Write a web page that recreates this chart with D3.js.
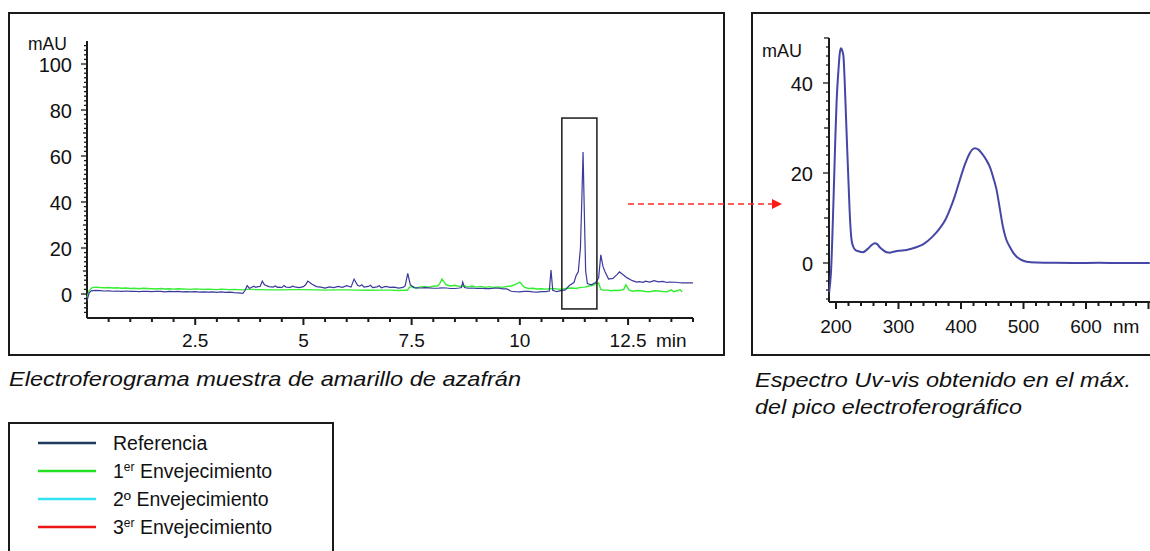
<!DOCTYPE html>
<html><head><meta charset="utf-8">
<script src="https://cdn.jsdelivr.net/npm/d3@7"></script>
<style>
html,body{margin:0;padding:0;background:#fff;}
svg{display:block;font-family:"Liberation Sans",Arial,sans-serif;}
</style></head>
<body>
<svg id="c" width="1150" height="551"></svg>
<script>
// ---------- DATA ----------
const elecXTicks = [2.5, 5, 7.5, 10, 12.5];
const elecYTicks = [0, 20, 40, 60, 80, 100];
// Referencia (time min, mAU)
const referencia = [
[0.0,-3],[0.05,0.5],[0.1,1.4],[0.2,1.6],[0.3,1.5],[0.4,1.3],[0.5,1.4],[0.6,1.2],[0.7,1.3],[0.8,1.1],[0.9,1.3],
[1.0,1.1],[1.1,1.2],[1.2,1.0],[1.3,1.2],[1.4,1.1],[1.5,1.0],[1.6,1.2],[1.7,1.1],[1.8,0.9],[1.9,1.1],[2.0,1.0],
[2.1,1.1],[2.2,0.9],[2.3,1.0],[2.4,0.9],[2.5,1.0],[2.6,0.8],[2.7,0.9],[2.8,0.8],[2.9,0.9],[3.0,0.7],[3.1,0.9],
[3.2,0.7],[3.3,0.8],[3.4,0.6],[3.5,0.5],[3.6,0.3],[3.65,1.5],[3.7,3.6],[3.75,2.5],[3.8,2.8],[3.85,3.4],[3.9,2.9],
[3.95,3.2],[4.0,3.3],[4.05,5.6],[4.1,4.0],[4.2,3.2],[4.3,3.0],[4.35,3.5],[4.4,2.9],[4.45,3.0],[4.5,2.8],[4.55,3.7],
[4.6,3.0],[4.7,2.9],[4.75,3.4],[4.8,3.1],[4.9,2.8],[5.0,3.2],[5.05,4.0],[5.1,5.6],[5.2,4.2],[5.3,3.2],[5.4,3.0],
[5.5,2.6],[5.6,3.1],[5.7,2.8],[5.8,3.3],[5.9,2.9],[6.0,3.6],[6.1,3.0],[6.17,6.5],[6.25,3.8],[6.3,3.4],[6.35,4.0],
[6.4,3.0],[6.5,3.3],[6.55,3.8],[6.6,2.8],[6.7,3.1],[6.75,3.6],[6.8,2.7],[6.9,3.3],[7.0,2.9],[7.1,3.0],[7.2,2.6],
[7.3,2.9],[7.35,3.5],[7.41,9.0],[7.47,4.0],[7.55,2.8],[7.7,2.6],[7.8,2.8],[7.9,2.7],[8.0,2.5],[8.1,2.5],[8.2,2.7],
[8.3,2.6],[8.4,2.4],[8.5,2.4],[8.6,2.6],[8.65,2.8],[8.68,5.2],[8.72,2.8],[8.8,2.5],[8.9,2.6],[9.0,2.4],[9.1,2.5],
[9.2,2.3],[9.3,2.3],[9.4,2.5],[9.5,2.6],[9.6,2.2],[9.7,2.2],[9.8,1.2],[9.9,1.0],[10.0,0.9],[10.1,1.1],[10.2,1.1],
[10.3,0.9],[10.4,0.8],[10.5,1.0],[10.6,1.0],[10.68,1.3],[10.72,10.4],[10.76,1.6],[10.85,1.0],[10.95,1.5],[11.05,1.8],
[11.15,3.8],[11.25,5.0],[11.3,8.0],[11.35,9.6],[11.4,20],[11.43,40],[11.46,61.7],[11.49,35],[11.52,10],[11.56,4.5],
[11.65,4.0],[11.75,5.0],[11.82,7.0],[11.87,17],[11.92,12],[11.97,9.6],[12.05,6.5],[12.15,6.8],[12.25,8.5],[12.3,9.6],
[12.38,8.5],[12.48,7.0],[12.6,5.8],[12.7,5.2],[12.75,5.4],[12.85,5.1],[12.9,5.6],[13.0,5.2],[13.1,5.8],[13.2,5.3],
[13.3,5.5],[13.4,5.0],[13.45,5.2],[13.6,5.1],[13.7,4.9],[13.75,4.8],[13.9,4.9],[14.0,4.8]
];
// 1er Envejecimiento
const envejecimiento1 = [
[0.0,-1.5],[0.05,1.5],[0.12,2.8],[0.2,3.0],[0.3,2.8],[0.4,2.7],[0.5,2.8],[0.6,2.6],[0.7,2.7],[0.8,2.5],[0.9,2.6],
[1.0,2.4],[1.1,2.5],[1.2,2.3],[1.3,2.5],[1.4,2.4],[1.5,2.3],[1.6,2.2],[1.7,2.4],[1.8,2.2],[1.9,2.3],[2.0,2.1],
[2.1,2.3],[2.2,2.2],[2.3,2.1],[2.4,2.0],[2.5,2.2],[2.6,2.1],[2.7,2.0],[2.8,2.1],[2.9,2.0],[3.0,1.9],[3.1,2.1],
[3.2,2.0],[3.3,1.9],[3.4,2.0],[3.5,1.9],[3.6,1.8],[3.7,2.0],[3.8,2.0],[3.9,1.9],[4.0,1.9],[4.25,1.8],[4.5,1.8],
[4.75,1.9],[5.0,1.9],[5.25,1.8],[5.5,1.7],[5.75,1.8],[6.0,1.8],[6.25,1.7],[6.5,1.6],[6.75,1.7],[7.0,1.7],[7.2,1.5],
[7.3,1.6],[7.4,1.6],[7.45,3.0],[7.55,3.2],[7.6,2.4],[7.7,3.1],[7.8,3.3],[7.9,3.0],[8.0,3.4],[8.1,3.6],[8.15,4.5],
[8.2,6.5],[8.3,4.0],[8.4,3.5],[8.5,3.8],[8.6,3.3],[8.7,3.6],[8.8,3.1],[8.9,3.5],[9.0,3.0],[9.1,3.3],[9.2,2.9],
[9.3,3.2],[9.4,2.8],[9.5,3.1],[9.6,2.9],[9.7,3.3],[9.8,3.5],[9.9,4.2],[10.0,5.2],[10.1,3.0],[10.2,2.4],[10.3,2.5],
[10.4,2.2],[10.5,2.3],[10.6,2.1],[10.7,2.3],[10.8,2.3],[10.9,2.1],[11.0,2.2],[11.1,2.5],[11.2,2.6],[11.3,2.4],
[11.4,2.9],[11.5,3.0],[11.6,3.5],[11.7,3.9],[11.75,4.5],[11.82,4.8],[11.87,2.0],[11.95,1.6],[12.0,1.8],[12.1,1.4],
[12.2,1.6],[12.3,1.5],[12.4,2.0],[12.45,4.0],[12.52,1.8],[12.6,1.2],[12.7,1.5],[12.8,1.4],[12.9,1.1],[13.0,1.0],
[13.1,1.4],[13.2,1.3],[13.3,1.1],[13.4,1.0],[13.5,1.8],[13.55,1.0],[13.65,1.5],[13.7,1.9],[13.75,0.9]
];
const specXTicks = [200, 300, 400, 500, 600];
const specYTicks = [0, 20, 40];
// UV-vis spectrum (nm, mAU)
const espectro = [
[189,-6.5],[192,-2],[196,14],[199,28],[201,36],[204,43],[206,46.6],[208,47.7],[210,47.2],[212,45.8],[214,40],
[216,32.5],[218,25],[220,18],[222,11],[225,5],[228,3.5],[231,2.9],[236,2.6],[243,2.4],[248,2.8],[252,3.3],
[257,4.0],[262,4.4],[266,4.2],[270,3.5],[276,2.8],[281,2.4],[286,2.3],[292,2.5],[300,2.7],[313,2.9],[326,3.4],
[340,4.2],[354,5.8],[366,7.7],[375,9.6],[382,11.8],[390,14.8],[398,18.4],[406,21.8],[414,24.4],[418,25.2],
[422,25.5],[428,25.2],[433,24.4],[440,23.0],[446,21.4],[452,18.8],[457,16.2],[462,12.2],[467,8.1],[472,5.4],
[478,3.6],[484,2.2],[489,1.4],[495,0.8],[505,0.3],[520,0.1],[540,0.05],[580,0.0],[620,0.05],[660,0.0],[702,0.0]
];
const legendItems = [
  {base:"Referencia", sup:"", rest:"", color:"#1f3a5f"},
  {base:"1", sup:"er", rest:" Envejecimiento", color:"#22e022"},
  {base:"2º Envejecimiento", sup:"", rest:"", color:"#33e3f3"},
  {base:"3", sup:"er", rest:" Envejecimiento", color:"#ee1515"}
];

// ---------- DRAW ----------
const svg = d3.select("#c");
const ink = "#1a1a1a";

// panel frames
svg.append("rect").attr("x",9).attr("y",13).attr("width",715).attr("height",342)
  .attr("fill","none").attr("stroke",ink).attr("stroke-width",2);
svg.append("rect").attr("x",752).attr("y",13).attr("width",420).attr("height",342)
  .attr("fill","none").attr("stroke",ink).attr("stroke-width",2);

// ===== Electropherogram =====
const ex = d3.scaleLinear().domain([0,14]).range([87,693]);
const ey = d3.scaleLinear().domain([-10,100]).range([317,64]);
const eg = svg.append("g");

// x axis
const exAxisY = 318;
eg.append("line").attr("x1",87).attr("x2",693).attr("y1",exAxisY).attr("y2",exAxisY)
  .attr("stroke",ink).attr("stroke-width",2);
const exMinor = d3.range(0.5,14.01,0.5);
eg.selectAll(".exm").data(exMinor).join("line")
  .attr("x1",d=>ex(d)).attr("x2",d=>ex(d)).attr("y1",exAxisY)
  .attr("y2",d=>exAxisY+(Math.abs(d/2.5-Math.round(d/2.5))<1e-6?7:4))
  .attr("stroke",ink).attr("stroke-width",2);
eg.selectAll(".exl").data(elecXTicks).join("text")
  .attr("x",d=>ex(d)).attr("y",347).attr("text-anchor","middle")
  .attr("font-size",19).attr("fill","#111").text(d=>d);
eg.append("text").attr("x",656).attr("y",347).attr("font-size",19).attr("fill","#111").text("min");

// y axis
eg.append("line").attr("x1",87).attr("x2",87).attr("y1",41).attr("y2",exAxisY)
  .attr("stroke",ink).attr("stroke-width",2);
const eyMinor = d3.range(-8,109,2);
eg.selectAll(".eym").data(eyMinor).join("line")
  .attr("y1",d=>ey(d)).attr("y2",d=>ey(d)).attr("x1",87)
  .attr("x2",d=>87-(d%20===0?6:(d%10===0?4:3)))
  .attr("stroke",ink).attr("stroke-width",1.3);
eg.selectAll(".eyl").data(elecYTicks).join("text")
  .attr("x",72).attr("y",d=>ey(d)+8).attr("text-anchor","end")
  .attr("font-size",20).attr("fill","#111").text(d=>d);
eg.append("text").attr("x",28).attr("y",50).attr("font-size",17.5).attr("fill","#111").text("mAU");

// traces
const eLine = d3.line().x(d=>ex(d[0])).y(d=>ey(d[1]));
eg.append("path").datum(envejecimiento1).attr("d",eLine)
  .attr("fill","none").attr("stroke","#33ee33").attr("stroke-width",1.4);
eg.append("path").datum(referencia).attr("d",eLine)
  .attr("fill","none").attr("stroke","#3a3a9c").attr("stroke-width",1.2);

// highlight box around main peak
eg.append("rect").attr("x",ex(10.97)).attr("y",ey(76.5))
  .attr("width",ex(11.78)-ex(10.97)).attr("height",ey(-6.5)-ey(76.5))
  .attr("fill","none").attr("stroke",ink).attr("stroke-width",1.5);

// red dashed arrow
svg.append("line").attr("x1",628).attr("x2",772).attr("y1",204).attr("y2",204)
  .attr("stroke","#ff2a2a").attr("stroke-width",1.5).attr("stroke-dasharray","6,4");
svg.append("path").attr("d","M772,199 L782,204 L772,209 Z").attr("fill","#ff1a1a");

// ===== Spectrum =====
const sx = d3.scaleLinear().domain([200,700]).range([836,1148.5]);
const sy = d3.scaleLinear().domain([0,40]).range([263,83]);
const sg = svg.append("g");
const sAxisY = 302;
sg.append("line").attr("x1",829).attr("x2",1150).attr("y1",sAxisY).attr("y2",sAxisY)
  .attr("stroke",ink).attr("stroke-width",2);
const sxMinor = d3.range(200,720,20);
sg.selectAll(".sxm").data(sxMinor).join("line")
  .attr("x1",d=>sx(d)).attr("x2",d=>sx(d)).attr("y1",sAxisY)
  .attr("y2",d=>sAxisY+(d%100===0?7:4))
  .attr("stroke",ink).attr("stroke-width",2);
sg.selectAll(".sxl").data(specXTicks).join("text")
  .attr("x",d=>sx(d)).attr("y",333).attr("text-anchor","middle")
  .attr("font-size",19).attr("fill","#111").text(d=>d);
sg.append("text").attr("x",1113).attr("y",333).attr("font-size",19).attr("fill","#111").text("nm");

sg.append("line").attr("x1",829).attr("x2",829).attr("y1",38).attr("y2",sAxisY)
  .attr("stroke",ink).attr("stroke-width",2);
const syMinor = d3.range(-8,51,2);
sg.selectAll(".sym").data(syMinor).join("line")
  .attr("y1",d=>sy(d)).attr("y2",d=>sy(d)).attr("x1",829)
  .attr("x2",d=>829-(d%20===0?6:(d%10===0?5:3)))
  .attr("stroke",ink).attr("stroke-width",1.3);
sg.selectAll(".syl").data(specYTicks).join("text")
  .attr("x",813).attr("y",d=>sy(d)+8).attr("text-anchor","end")
  .attr("font-size",20).attr("fill","#111").text(d=>d);
sg.append("text").attr("x",762).attr("y",57).attr("font-size",18).attr("fill","#111").text("mAU");

const sLine = d3.line().curve(d3.curveMonotoneX).x(d=>sx(d[0])).y(d=>sy(d[1]));
sg.append("path").datum(espectro).attr("d",sLine)
  .attr("fill","none").attr("stroke","#4646a6").attr("stroke-width",2);

// ===== Captions =====
function caption(x, y, txt, w){
  svg.append("text").attr("x",x).attr("y",y).attr("font-size",21).attr("font-style","italic")
    .attr("fill","#111").attr("textLength",w).attr("lengthAdjust","spacingAndGlyphs").text(txt);
}
caption(9, 386, "Electroferograma muestra de amarillo de azafrán", 512);
caption(755, 387, "Espectro Uv-vis obtenido en el máx.", 376);
caption(755, 414, "del pico electroferográfico", 267);

// ===== Legend =====
svg.append("rect").attr("x",9).attr("y",423).attr("width",324).attr("height",140)
  .attr("fill","none").attr("stroke",ink).attr("stroke-width",2);
const ly = d3.scalePoint().domain(legendItems.map(d=>d.base+d.rest)).range([443,527]);
const lg = svg.append("g");
legendItems.forEach(it=>{
  const y = ly(it.base+it.rest);
  lg.append("line").attr("x1",38).attr("x2",96).attr("y1",y).attr("y2",y)
    .attr("stroke",it.color).attr("stroke-width",2.5);
  const t = lg.append("text").attr("x",113).attr("y",y+7).attr("font-size",19.5).attr("fill","#111");
  t.append("tspan").text(it.base);
  if (it.sup){
    t.append("tspan").attr("font-size",12).attr("dy",-7).text(it.sup);
    t.append("tspan").attr("dy",7).text(it.rest);
  }
});
</script>
</body></html>
